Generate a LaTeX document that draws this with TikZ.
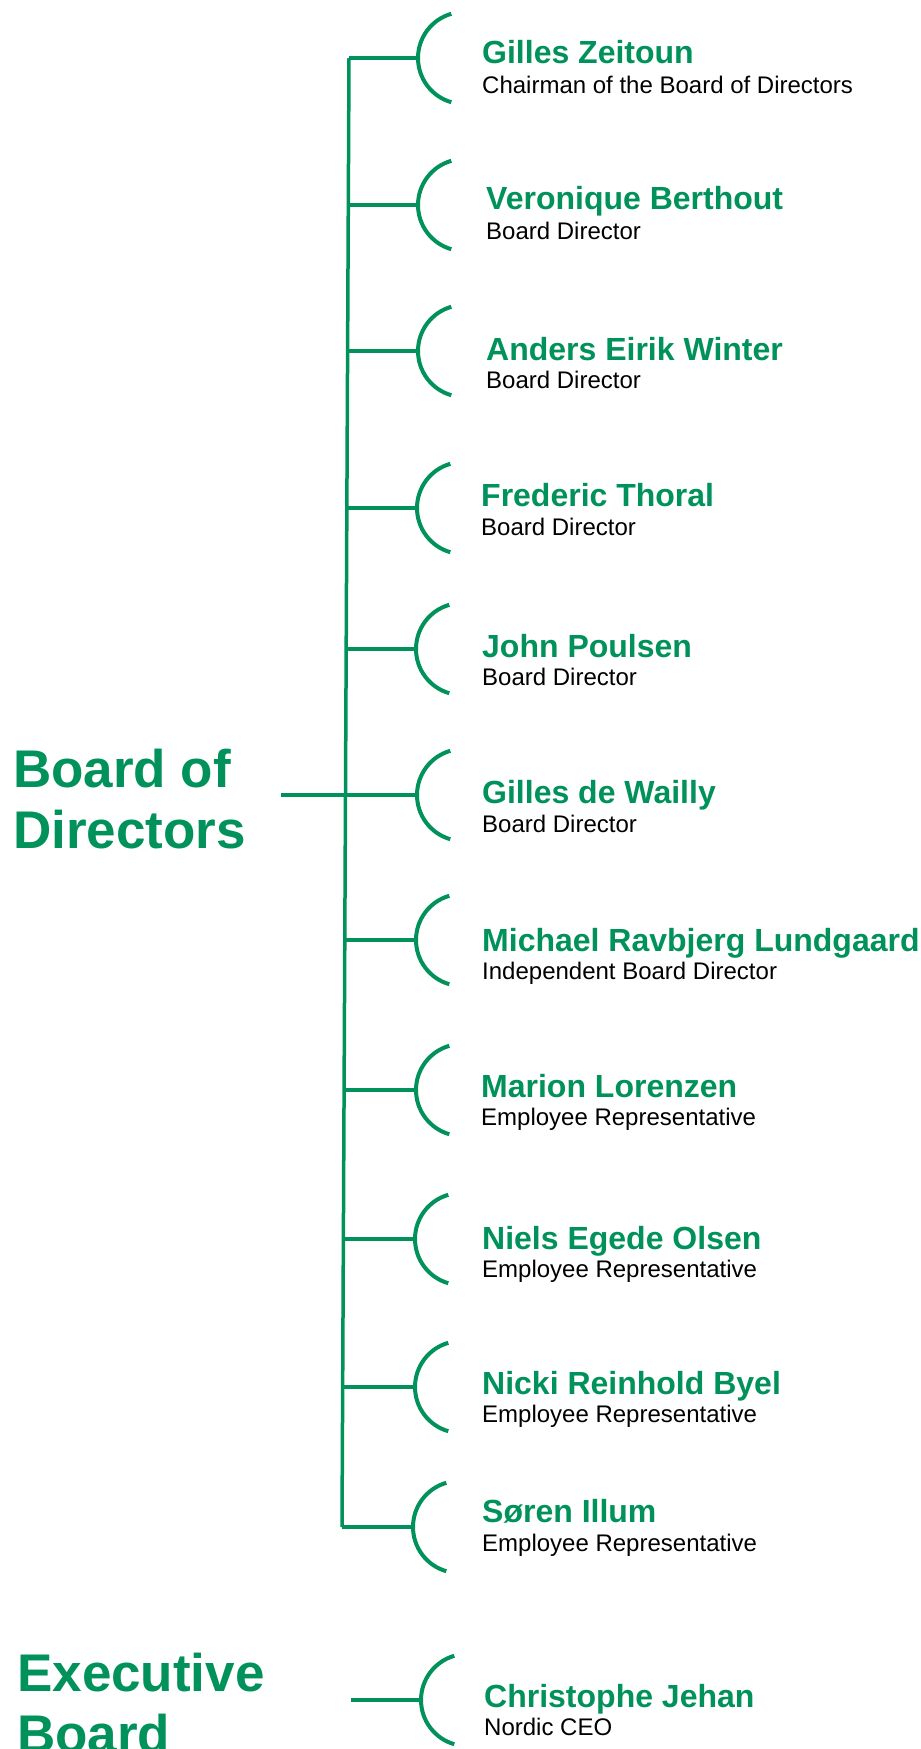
\documentclass[tikz,border=0pt]{standalone}
\usepackage{fontspec}
\setmainfont{Liberation Sans}
\definecolor{brandgreen}{RGB}{0,146,90}
\begin{document}
\begin{tikzpicture}[x=1pt,y=-1pt,
  conn/.style={draw=brandgreen, line width=3.5pt},
  bracket/.style={draw=brandgreen, line width=4pt},
  namelbl/.style={anchor=base west, inner sep=0pt, text=brandgreen, font=\fontsize{32}{38}\selectfont\bfseries},
  rolelbl/.style={anchor=base west, inner sep=0pt, text=black, font=\fontsize{24}{29}\selectfont},
  titlelbl/.style={anchor=base west, inner sep=0pt, text=brandgreen, font=\fontsize{53}{61}\selectfont\bfseries, align=left}]
\useasboundingbox (0,0) rectangle (921,1749);

% vertical spine
\coordinate (top) at (349,58);
\coordinate (bot) at (342,1527);
\draw[conn] (top) -- (bot);

% Board of Directors title
\node[titlelbl] (bod1) at (13,787) {Board of};
\node[titlelbl] (bod2) at (13,848) {Directors};
\coordinate (bodend) at (281,795);
\coordinate (bodjoin) at (345.5,795);
\draw[conn] (bodend) -- (bodjoin);

% members
\foreach \i/\y/\vx/\ax/\nx/\nb/\sb/\nm/\rl in {
 1/58/349/418/482/63/93/{Gilles Zeitoun}/{Chairman of the Board of Directors},
 2/205/348.3/418/486/209/239/{Veronique Berthout}/{Board Director},
 3/351/347.6/418/486/360/388/{Anders Eirik Winter}/{Board Director},
 4/508/346.9/417/481/506/535/{Frederic Thoral}/{Board Director},
 5/649/346.2/416/482/657/685/{John Poulsen}/{Board Director},
 6/795/345.5/417/482/803/832/{Gilles de Wailly}/{Board Director},
 7/940/344.8/416/482/951/979/{Michael Ravbjerg Lundgaard}/{Independent Board Director},
 8/1090/344.1/416/481/1097/1125/{Marion Lorenzen}/{Employee Representative},
 9/1239/343.4/415/482/1249/1277/{Niels Egede Olsen}/{Employee Representative},
 10/1387/342.7/415/482/1394/1422/{Nicki Reinhold Byel}/{Employee Representative},
 11/1527/342/413/482/1522/1551/{Søren Illum}/{Employee Representative}}{
  \coordinate (v\i) at (\vx,\y);
  \coordinate (a\i) at (\ax,\y);
  \draw[conn] (v\i) -- (a\i);
  \draw[bracket] (a\i) arc[start angle=180, end angle=106, radius=46];
  \draw[bracket] (a\i) arc[start angle=180, end angle=254, radius=46];
  \node[namelbl] (n\i) at (\nx,\nb) {\nm};
  \node[rolelbl] (r\i) at (\nx,\sb) {\rl};
}

% Executive Board
\node[titlelbl] (eb1) at (17,1691) {Executive};
\node[titlelbl] (eb2) at (17,1752) {Board};
\coordinate (ebend) at (351,1700);
\coordinate (aceo) at (421,1700);
\draw[conn] (ebend) -- (aceo);
\draw[bracket] (aceo) arc[start angle=180, end angle=106, radius=46];
\draw[bracket] (aceo) arc[start angle=180, end angle=254, radius=46];
\node[namelbl] (nceo) at (484,1707) {Christophe Jehan};
\node[rolelbl] (rceo) at (484,1735) {Nordic CEO};
\end{tikzpicture}
\end{document}
